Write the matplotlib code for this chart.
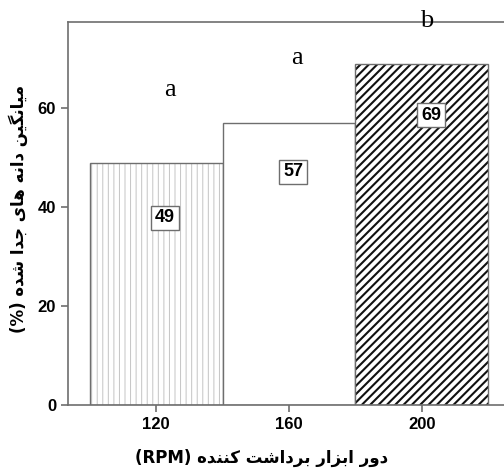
import matplotlib
matplotlib.use('Agg')
import matplotlib.pyplot as plt

rpm = [120, 160, 200]
means = [49, 57, 69]
value_labels = ['49', '57', '69']
letters = ['a', 'a', 'b']
x_title = 'دور ابزار برداشت کننده'
y_title = 'میانگین دانه های جدا شده'

# matplotlib does no arabic shaping, so pick presentation forms by hand
# char: (isolated, final, initial, medial); right-joining letters have no initial/medial
FORMS = {
    'ا': ('\uFE8D', '\uFE8E', None, None),
    'ب': ('\uFE8F', '\uFE90', '\uFE91', '\uFE92'),
    'ت': ('\uFE95', '\uFE96', '\uFE97', '\uFE98'),
    'ج': ('\uFE9D', '\uFE9E', '\uFE9F', '\uFEA0'),
    'د': ('\uFEA9', '\uFEAA', None, None),
    'ر': ('\uFEAD', '\uFEAE', None, None),
    'ز': ('\uFEAF', '\uFEB0', None, None),
    'ش': ('\uFEB5', '\uFEB6', '\uFEB7', '\uFEB8'),
    'م': ('\uFEE1', '\uFEE2', '\uFEE3', '\uFEE4'),
    'ن': ('\uFEE5', '\uFEE6', '\uFEE7', '\uFEE8'),
    'ه': ('\uFEE9', '\uFEEA', '\uFEEB', '\uFEEC'),
    'و': ('\uFEED', '\uFEEE', None, None),
    'ک': ('\uFB8E', '\uFB8F', '\uFB90', '\uFB91'),
    'گ': ('\uFB92', '\uFB93', '\uFB94', '\uFB95'),
    'ی': ('\uFBFC', '\uFBFD', '\uFBFE', '\uFBFF'),
}


def dual(c):
    return c in FORMS and FORMS[c][2] is not None


def shape(s):
    out = []
    for i, c in enumerate(s):
        if c not in FORMS:
            out.append(c)
            continue
        prev = s[i - 1] if i > 0 else ''
        nxt = s[i + 1] if i + 1 < len(s) else ''
        jp = dual(prev)
        jn = dual(c) and nxt in FORMS
        iso, fin, ini, med = FORMS[c]
        if jp and jn:
            out.append(med)
        elif jp:
            out.append(fin)
        elif jn:
            out.append(ini)
        else:
            out.append(iso)
    return ''.join(out)[::-1]


fig = plt.figure(figsize=(5.04, 4.75), dpi=100)
ax = fig.add_axes([68 / 504, 1 - 405 / 475, 442 / 504, 383 / 475])

gray = '#6e6e6e'
# 120: light gray fine vertical lines
plt.rcParams['hatch.linewidth'] = 0.7
ax.bar(rpm[0], means[0], width=40, color='white', edgecolor='#c4c4c4',
       hatch='|||', linewidth=0)
ax.bar(rpm[0], means[0], width=40, fill=False, edgecolor=gray, linewidth=1.0)
# 160: plain white
ax.bar(rpm[1], means[1], width=40, color='white', edgecolor=gray, linewidth=1.0)
# 200: dense diagonal lines
plt.rcParams['hatch.linewidth'] = 1.5
ax.bar(rpm[2], means[2], width=40, color='white', edgecolor='#111111',
       hatch='////', linewidth=0)
ax.bar(rpm[2], means[2], width=40, fill=False, edgecolor=gray, linewidth=1.0)

box_pos = [(122.7, 37.8), (161.2, 47.1), (202.7, 58.6)]
for (bx, by), lab in zip(box_pos, value_labels):
    ax.text(bx, by, lab, ha='center', va='center', fontsize=13,
            fontweight='bold', family='Liberation Sans',
            bbox=dict(boxstyle='square,pad=0.2', fc='white', ec=gray, lw=1))

letter_pos = [(124.2, 63.6), (162.4, 70.1), (201.5, 77.6)]
for (lx, ly), lt in zip(letter_pos, letters):
    ax.text(lx, ly, lt, ha='center', va='center', fontsize=19,
            family='Liberation Serif', clip_on=False)

ax.set_xlim(93.5, 226.5)
ax.set_ylim(0, 77.4)
ax.set_xticks(rpm)
ax.set_yticks([0, 20, 40, 60])
for sp in ax.spines.values():
    sp.set_color(gray)
    sp.set_linewidth(1.2)
ax.tick_params(colors=gray, length=5, width=1.2)
for t in ax.get_xticklabels() + ax.get_yticklabels():
    t.set_fontweight('bold')
    t.set_fontsize(12)
    t.set_family('Liberation Sans')
    t.set_color('black')

fig.text(262 / 504, 1 - 458 / 475, '(RPM) ' + shape(x_title),
         ha='center', va='center', fontsize=12, fontweight='bold',
         family=['DejaVu Sans'])
fig.text(18 / 504, 1 - 209 / 475, '(%) ' + shape(y_title), rotation=90,
         ha='center', va='center', fontsize=12, fontweight='bold',
         family=['DejaVu Sans'])

fig.savefig('out.png', dpi=100)
